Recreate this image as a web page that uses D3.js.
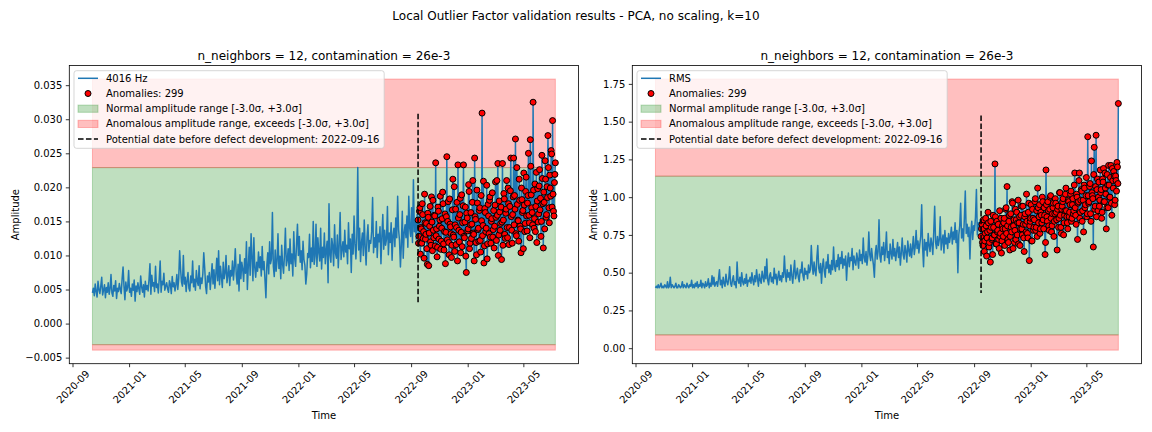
<!DOCTYPE html>
<html><head><meta charset="utf-8">
<script src="https://cdn.jsdelivr.net/npm/d3@7"></script>
<style>body{margin:0;background:#fff}svg{font-family:"DejaVu Sans",sans-serif;display:block}</style>
</head><body><svg id="chart" width="1152" height="432"></svg>
<script>
// ---------------- data ----------------
const suptitle = "Local Outlier Factor validation results - PCA, no scaling, k=10";
const panelTitles = ["n_neighbors = 12, contamination = 26e-3", "n_neighbors = 12, contamination = 26e-3"];
const seriesNames = ["4016 Hz", "RMS"];
const legendLabels = ["Anomalies: 299", "Normal amplitude range [-3.0σ, +3.0σ]", "Anomalous amplitude range, exceeds [-3.0σ, +3.0σ]", "Potential date before defect development: 2022-09-16"];
const xLabel = "Time";
const yLabel = "Amplitude";
const xTickLabels = ["2020-09","2021-01","2021-05","2021-09","2022-01","2022-05","2022-09","2023-01","2023-05"];
const leftYTicks = [-0.005,0,0.005,0.010,0.015,0.020,0.025,0.030,0.035];
const rightYTicks = [0,0.25,0.5,0.75,1.0,1.25,1.5,1.75];
const seriesStart = "2020-10-14";
const defectDate = "2022-09-16";
const stepDays = 2;

// 4016 Hz amplitude, before the defect date (every 2 days)
const leftBefore = [
0.0045,0.0052,0.0041,0.0058,0.0047,0.0039,0.0062,0.0050,0.0044,0.0055,0.0068,0.0042,0.0049,0.0057,0.0038,0.0053,0.0046,0.0060,0.0043,0.0051,0.0072,0.0045,0.0040,0.0056,0.0048,0.0063,0.0037,0.0052,0.0047,0.0059,
0.0050,0.0044,0.0066,0.0083,0.0055,0.0035,0.0061,0.0048,0.0053,0.0078,0.0046,0.0052,0.0040,0.0058,0.0049,0.0064,0.0033,0.0055,0.0047,0.0060,0.0051,0.0043,0.0070,0.0054,0.0046,0.0057,0.0039,0.0062,0.0050,0.0056,
0.0048,0.0065,0.0088,0.0043,0.0071,0.0055,0.0060,0.0047,0.0084,0.0053,0.0058,0.0045,0.0066,0.0092,0.0046,0.0062,0.0057,0.0074,0.0049,0.0055,0.0060,0.0051,0.0046,0.0063,0.0058,0.0044,0.0069,0.0054,0.0060,0.0048,
0.0057,0.0072,0.0050,0.0066,0.0107,0.0080,0.0061,0.0055,0.0100,0.0058,0.0068,0.0047,0.0063,0.0075,0.0052,0.0048,0.0070,0.0060,0.0092,0.0054,0.0065,0.0049,0.0078,0.0062,0.0056,0.0085,0.0051,0.0067,0.0059,0.0073,
0.0104,0.0082,0.0055,0.0044,0.0070,0.0061,0.0075,0.0050,0.0068,0.0088,0.0058,0.0079,0.0052,0.0072,0.0096,0.0063,0.0107,0.0057,0.0084,0.0069,0.0053,0.0090,0.0066,0.0074,0.0100,0.0060,0.0071,0.0085,0.0056,0.0078,
0.0070,0.0092,0.0064,0.0083,0.0110,0.0072,0.0058,0.0087,0.0048,0.0101,0.0066,0.0090,0.0080,0.0062,0.0095,0.0074,0.0120,0.0050,0.0084,0.0112,0.0071,0.0132,0.0097,0.0063,0.0126,0.0082,0.0068,0.0090,0.0077,0.0105,
0.0082,0.0098,0.0070,0.0113,0.0079,0.0091,0.0064,0.0038,0.0086,0.0104,0.0073,0.0120,0.0088,0.0095,0.0163,0.0084,0.0069,0.0108,0.0077,0.0092,0.0132,0.0081,0.0099,0.0066,0.0115,0.0087,0.0074,0.0101,0.0140,0.0085,
0.0093,0.0110,0.0078,0.0124,0.0088,0.0102,0.0070,0.0135,0.0096,0.0084,0.0116,0.0146,0.0100,0.0128,0.0090,0.0107,0.0079,0.0121,0.0094,0.0086,0.0058,0.0073,0.0103,0.0097,0.0131,0.0082,0.0111,0.0091,0.0150,0.0087,
0.0099,0.0146,0.0084,0.0126,0.0105,0.0092,0.0140,0.0080,0.0112,0.0097,0.0133,0.0088,0.0108,0.0121,0.0060,0.0176,0.0101,0.0090,0.0125,0.0114,0.0085,0.0145,0.0103,0.0096,0.0130,0.0082,0.0116,0.0163,0.0094,0.0109,
0.0120,0.0098,0.0137,0.0105,0.0115,0.0088,0.0148,0.0110,0.0124,0.0075,0.0131,0.0102,0.0158,0.0117,0.0095,0.0128,0.0229,0.0108,0.0140,0.0091,0.0119,0.0133,0.0100,0.0152,0.0113,0.0086,0.0127,0.0145,0.0106,0.0122,
0.0118,0.0135,0.0185,0.0104,0.0126,0.0112,0.0150,0.0097,0.0131,0.0120,0.0142,0.0088,0.0128,0.0160,0.0109,0.0137,0.0115,0.0124,0.0172,0.0101,0.0133,0.0119,0.0148,0.0093,0.0130,0.0140,0.0113,0.0155,0.0126,0.0187,
0.0138,0.0122,0.0083,0.0117,0.0165,0.0096,0.0133,0.0145,0.0126,0.0158,0.0112,0.0187,0.0140,0.0128,0.0170,0.0119,0.0211,0.0135,0.0150,0.0124,0.0160];

// 4016 Hz amplitude from the defect date on (anomalies): even days, then odd days
const leftAfter = [
0.0152,0.0128,0.0170,0.0141,0.0118,0.0160,0.0135,0.0190,0.0124,0.0147,
0.0087,0.0156,0.0133,0.0172,0.0115,0.0149,0.0181,0.0126,0.0158,0.0236,
0.0139,0.0112,0.0165,0.0143,0.0187,0.0121,0.0154,0.0176,0.0108,0.0161,
0.0134,0.0245,0.0150,0.0119,0.0183,0.0142,0.0097,0.0167,0.0130,0.0201,
0.0145,0.0116,0.0178,0.0233,0.0137,0.0160,0.0104,0.0189,0.0148,0.0233,
0.0126,0.0171,0.0075,0.0155,0.0139,0.0194,0.0118,0.0163,0.0146,0.0210,
0.0131,0.0243,0.0153,0.0101,0.0177,0.0140,0.0166,0.0122,0.0188,0.0309,
0.0144,0.0089,0.0169,0.0135,0.0203,0.0117,0.0158,0.0181,0.0127,0.0150,
0.0192,0.0138,0.0111,0.0174,0.0156,0.0210,0.0235,0.0130,0.0164,0.0147,
0.0094,0.0235,0.0152,0.0183,0.0125,0.0168,0.0141,0.0199,0.0116,0.0172,
0.0243,0.0137,0.0160,0.0243,0.0188,0.0271,0.0129,0.0175,0.0151,0.0212,
0.0143,0.0104,0.0182,0.0166,0.0221,0.0135,0.0194,0.0158,0.0177,0.0250,
0.0148,0.0270,0.0189,0.0163,0.0325,0.0140,0.0205,0.0172,0.0119,0.0198,
0.0161,0.0226,0.0184,0.0150,0.0213,0.0111,0.0178,0.0239,0.0156,0.0201,
0.0276,0.0170,0.0218,0.0187,0.0249,0.0298,0.0165,0.0207,0.0236];
const leftAfterOdd = [
0.0118,0.0165,0.0102,0.0139,0.0176,0.0125,0.0096,0.0148,0.0131,0.0110,
0.0162,0.0085,0.0143,0.0120,0.0186,0.0107,0.0137,0.0159,0.0114,0.0129,
0.0098,0.0171,0.0124,0.0152,0.0109,0.0140,0.0193,0.0117,0.0135,0.0088,
0.0157,0.0123,0.0179,0.0101,0.0146,0.0132,0.0115,0.0212,0.0127,0.0106,
0.0168,0.0141,0.0092,0.0155,0.0120,0.0184,0.0134,0.0113,0.0173,0.0128,
0.0149,0.0099,0.0162,0.0136,0.0204,0.0110,0.0145,0.0125,0.0178,0.0133,
0.0092,0.0157,0.0119,0.0196,0.0138,0.0121,0.0170,0.0105,0.0151,0.0129,
0.0209,0.0114,0.0163,0.0140,0.0095,0.0175,0.0132,0.0186,0.0118,0.0154,
0.0127,0.0166,0.0143,0.0208,0.0122,0.0159,0.0100,0.0180,0.0137,0.0171,
0.0149,0.0115,0.0191,0.0131,0.0162,0.0210,0.0126,0.0176,0.0141,0.0195,
0.0157,0.0118,0.0186,0.0145,0.0168,0.0132,0.0229,0.0152,0.0121,0.0181,
0.0139,0.0199,0.0163,0.0110,0.0174,0.0147,0.0215,0.0136,0.0188,0.0159,
0.0126,0.0231,0.0170,0.0145,0.0196,0.0154,0.0135,0.0222,0.0180,0.0149,
0.0202,0.0167,0.0128,0.0247,0.0176,0.0193,0.0139,0.0212,0.0160,0.0185,
0.0229,0.0148,0.0199,0.0254,0.0171,0.0190,0.0158,0.0219];

// RMS, before the defect date (every 2 days)
const rightBefore = [
0.40,0.41,0.40,0.42,0.40,0.41,0.43,0.40,0.41,0.40,0.42,0.41,0.40,0.44,0.40,0.41,0.47,0.40,0.42,0.41,0.40,0.41,0.43,0.40,0.40,0.42,0.41,0.40,0.41,0.44,0.40,0.42,0.41,0.40,0.43,0.41,0.40,0.42,0.41,0.45,0.40,
0.42,0.40,0.43,0.41,0.44,0.40,0.42,0.41,0.45,0.40,0.43,0.42,0.40,0.44,0.41,0.42,0.46,0.40,0.43,0.41,0.48,0.42,0.47,0.41,0.43,
0.44,0.41,0.46,0.52,0.42,0.45,0.40,0.47,0.43,0.41,0.49,0.44,0.42,0.46,0.54,0.43,0.41,0.45,0.48,0.42,0.44,0.40,0.57,0.45,0.43,0.47,0.41,0.50,0.44,0.42,0.46,0.43,0.49,0.41,0.45,0.44,
0.47,0.43,0.50,0.45,0.42,0.48,0.44,0.52,0.46,0.41,0.49,0.45,0.43,0.51,0.47,0.44,0.54,0.46,0.59,0.45,0.42,0.48,0.50,0.44,0.47,0.43,0.53,0.46,0.49,0.42,0.47,0.51,0.45,0.48,0.44,0.50,
0.47,0.61,0.49,0.44,0.52,0.47,0.50,0.45,0.55,0.48,0.43,0.51,0.58,0.46,0.49,0.53,0.47,0.44,0.52,0.50,0.57,0.48,0.45,0.53,0.49,0.51,0.46,0.55,0.50,
0.52,0.68,0.55,0.49,0.57,0.51,0.48,0.60,0.68,0.53,0.50,0.56,0.43,0.54,0.59,0.51,0.47,0.57,0.53,0.62,0.50,0.55,0.49,0.58,0.52,0.67,0.54,0.51,
0.58,0.54,0.62,0.52,0.60,0.56,0.64,0.53,0.59,0.55,0.61,0.45,0.57,0.63,0.54,0.60,0.58,0.66,0.52,0.61,0.57,0.55,0.63,0.59,0.53,0.65,0.58,0.62,0.56,0.73,0.60,0.57,0.64,0.55,0.61,0.77,
0.62,0.58,0.66,0.60,0.55,0.47,0.63,0.68,0.59,0.64,0.85,0.61,0.57,0.67,0.62,0.70,0.58,0.65,0.77,0.60,0.64,0.56,0.69,0.63,0.59,0.72,0.61,0.66,0.58,0.64,0.70,0.60,0.67,0.55,0.63,0.73,0.62,0.59,0.68,0.64,0.57,0.71,0.65,0.61,0.69,0.60,0.66,0.74,0.62,0.67,0.78,
0.66,0.71,0.63,0.69,0.74,0.95,0.67,0.54,0.72,0.65,0.70,0.61,0.76,0.68,0.64,0.73,0.69,0.62,0.77,0.94,0.70,0.66,0.74,0.68,0.72,0.87,0.65,0.71,0.75,0.63,0.78,0.69,0.73,0.66,0.76,0.70,
0.74,0.80,0.69,0.77,0.72,0.83,0.70,0.78,0.50,0.75,0.81,0.96,0.73,0.79,0.71,0.86,1.04,0.76,0.82,0.74,0.80,0.59,0.77,0.84,0.72,0.81,0.78,0.87,1.05,0.75,0.83,0.79,0.85];

// RMS from the defect date on (anomalies): even days, then odd days
const rightAfter = [
0.74,0.82,0.68,0.79,0.71,0.86,0.61,0.77,0.83,0.70,0.57,0.80,0.73,0.88,0.75,1.22,0.69,0.84,0.78,0.72,0.91,0.76,0.63,0.81,0.74,
0.86,0.79,0.93,1.07,0.72,0.84,0.65,0.89,0.77,0.96,0.81,0.70,0.92,0.85,0.75,0.98,0.83,0.68,0.88,0.79,0.94,0.73,0.87,0.82,1.02,0.76,0.90,0.58,0.84,0.95,0.71,0.86,0.80,0.97,0.78,
0.91,1.06,0.83,0.95,0.79,0.88,1.00,0.85,0.93,0.62,1.18,0.87,0.97,0.81,0.92,1.01,0.77,0.89,0.96,0.84,0.99,0.90,0.65,0.94,0.86,1.03,0.80,0.92,0.97,0.75,0.88,1.02,0.91,0.83,0.98,0.87,
0.95,1.04,0.86,0.99,0.91,1.16,0.88,1.02,0.72,0.97,1.16,0.90,1.05,0.84,0.98,1.08,0.93,1.01,0.87,
1.40,0.96,1.07,0.89,1.24,1.01,0.67,1.33,0.94,1.41,1.05,0.91,1.10,0.98,1.03,0.86,1.12,1.19,0.97,1.06,0.79,1.15,0.93,1.08,1.00,1.21,0.88,1.11,1.17,0.95,1.14,1.04,1.20,1.62];
const rightAfterOdd = [
0.79,0.70,0.85,0.64,0.76,0.81,0.73,0.90,0.67,0.78,
0.84,0.72,0.62,0.80,0.75,0.87,0.69,0.77,0.82,0.66,
0.74,0.86,0.71,0.79,0.83,0.68,0.92,0.76,0.81,0.70,
0.88,0.74,0.80,0.97,0.66,0.85,0.78,0.72,0.90,0.83,
0.69,0.87,0.79,0.94,0.75,0.82,0.64,0.89,0.77,0.84,
0.73,0.96,0.81,0.86,0.71,0.92,0.78,0.85,0.99,0.80,
0.74,0.93,0.87,0.76,0.90,0.83,0.97,0.79,0.88,0.70,
0.95,0.84,0.91,0.78,1.00,0.86,0.81,0.93,0.74,0.89,
0.96,0.85,0.92,0.80,1.03,0.88,0.76,0.94,0.99,0.83,
0.91,1.06,0.87,0.79,0.97,0.90,1.02,0.84,0.95,0.89,
1.08,0.93,0.82,1.00,0.96,1.11,0.86,0.98,1.04,0.91,
0.77,1.06,0.95,1.13,0.89,1.01,0.97,1.09,0.84,1.03,
0.99,1.15,0.92,1.07,0.87,1.12,1.00,0.94,1.18,1.05,
0.90,1.10,0.97,1.16,1.02,0.93,1.08,1.21,1.00,1.13,
0.96,1.19,1.06,1.14,0.98,1.11,1.23,1.09];

// band limits: [red low, green low, green high, red high]
const leftBands = [-0.0039, -0.0031, 0.0229, 0.0359];
const rightBands = [-0.013, 0.088, 1.139, 1.782];
// vertical dashed marker extent [bottom, top]
const leftVLine = [0.0028, 0.0308];
const rightVLine = [0.365, 1.541];

// ---------------- drawing ----------------
const svg = d3.select("#chart");
const FONT = '"DejaVu Sans", sans-serif';
const PT = 65.5, PB = 363.7, PW = 509.2;
const BLUE = "#1f77b4";
const parseDay = d3.utcParse("%Y-%m-%d"), parseMonth = d3.utcParse("%Y-%m");

svg.append("text").attr("x", 576).attr("y", 19.5).attr("text-anchor", "middle")
  .attr("font-size", 12).attr("fill", "#000").text(suptitle);

function buildSeries(before, after, afterOdd) {
  const t0 = parseDay(seriesStart), t1 = parseDay(defectDate);
  const pts = [];
  before.forEach((v, i) => pts.push({date: d3.utcDay.offset(t0, i * stepDays), value: v, anomaly: false}));
  after.forEach((v, i) => pts.push({date: d3.utcDay.offset(t1, i * stepDays), value: v, anomaly: true}));
  afterOdd.forEach((v, i) => pts.push({date: d3.utcDay.offset(t1, i * stepDays + 1), value: v, anomaly: true}));
  pts.sort((a, b) => a.date - b.date);
  return pts;
}

function drawPanel(p) {
  const g = svg.append("g");
  const pts = buildSeries(p.before, p.after, p.afterOdd);
  const dMin = pts[0].date, dMax = pts[pts.length - 1].date;
  const span = dMax - dMin;
  const x = d3.scaleUtc().domain([new Date(+dMin - 0.05 * span), new Date(+dMax + 0.05 * span)]).range([p.x0, p.x0 + PW]);
  const yLo = p.bands[0], yHi = p.bands[3], ys = yHi - yLo;
  const y = d3.scaleLinear().domain([yLo - 0.05 * ys, yHi + 0.05 * ys]).range([PB, PT]);

  // bands
  const bands = [
    {lo: p.bands[1], hi: p.bands[2], c: "#008000"},
    {lo: p.bands[2], hi: p.bands[3], c: "#ff0000"},
    {lo: p.bands[0], hi: p.bands[1], c: "#ff0000"}];
  g.selectAll("rect.band").data(bands).join("rect").attr("class", "band")
    .attr("x", x(dMin)).attr("width", x(dMax) - x(dMin))
    .attr("y", d => y(d.hi)).attr("height", d => y(d.lo) - y(d.hi))
    .attr("fill", d => d.c).attr("fill-opacity", 0.25)
    .attr("stroke", d => d.c).attr("stroke-opacity", 0.25).attr("stroke-width", 1);

  // series line
  g.append("path").datum(pts)
    .attr("d", d3.line().x(d => x(d.date)).y(d => y(d.value)))
    .attr("fill", "none").attr("stroke", BLUE).attr("stroke-width", 1.5).attr("stroke-linejoin", "round");

  // anomalies
  g.selectAll("circle.anom").data(pts.filter(d => d.anomaly)).join("circle").attr("class", "anom")
    .attr("cx", d => x(d.date)).attr("cy", d => y(d.value)).attr("r", 3)
    .attr("fill", "#ff0000").attr("stroke", "#000").attr("stroke-width", 1);

  // dashed marker
  const vd = parseDay(defectDate);
  g.append("line").attr("x1", x(vd)).attr("x2", x(vd)).attr("y1", y(p.vline[1])).attr("y2", y(p.vline[0]))
    .attr("stroke", "#000").attr("stroke-width", 1.5).attr("stroke-dasharray", "5.55,2.4");

  // frame
  g.append("rect").attr("x", p.x0).attr("y", PT).attr("width", PW).attr("height", PB - PT)
    .attr("fill", "none").attr("stroke", "#000").attr("stroke-width", 0.8);

  // x axis
  const gx = g.append("g").attr("transform", `translate(0,${PB})`)
    .call(d3.axisBottom(x).tickValues(xTickLabels.map(parseMonth)).tickFormat((d, i) => xTickLabels[i]).tickSize(3.5).tickPadding(3.5));
  gx.attr("font-family", FONT).attr("font-size", 10);
  gx.select(".domain").remove();
  gx.selectAll(".tick line").attr("stroke", "#000").attr("stroke-width", 0.8);
  gx.selectAll(".tick text").attr("y", null).attr("dy", null).attr("fill", "#000")
    .attr("dominant-baseline", "central").attr("text-anchor", "middle")
    .attr("transform", "translate(0,23) rotate(-45)");

  // y axis
  const gy = g.append("g").attr("transform", `translate(${p.x0},0)`)
    .call(d3.axisLeft(y).tickValues(p.yTicks).tickFormat(p.yFmt).tickSize(3.5).tickPadding(3.5));
  gy.attr("font-family", FONT).attr("font-size", 10);
  gy.select(".domain").remove();
  gy.selectAll(".tick line").attr("stroke", "#000").attr("stroke-width", 0.8);
  gy.selectAll(".tick text").attr("fill", "#000");
  let maxW = 0;
  gy.selectAll(".tick text").each(function () { maxW = Math.max(maxW, this.getComputedTextLength()); });

  // labels
  g.append("text").attr("x", p.x0 + PW / 2).attr("y", 59.5).attr("text-anchor", "middle")
    .attr("font-size", 12).attr("fill", "#000").text(p.title);
  g.append("text").attr("x", p.x0 + PW / 2).attr("y", 415).attr("text-anchor", "middle")
    .attr("dominant-baseline", "central").attr("font-size", 10).attr("fill", "#000").text(xLabel);
  const ylx = p.x0 - 7 - maxW - 4 - 5.8;
  g.append("text").attr("transform", `translate(${ylx},${(PT + PB) / 2}) rotate(-90)`)
    .attr("text-anchor", "middle").attr("dominant-baseline", "central")
    .attr("font-size", 10).attr("fill", "#000").text(yLabel);

  // legend
  const lg = g.append("g").attr("transform", `translate(${p.x0 + 4.7},${PT + 5.2})`);
  const labels = [p.name].concat(legendLabels);
  const box = lg.append("rect").attr("rx", 2.5).attr("ry", 2.5)
    .attr("fill", "#fff").attr("fill-opacity", 0.8).attr("stroke", "#ccc").attr("stroke-opacity", 0.8).attr("stroke-width", 1);
  let tw = 0;
  labels.forEach((lab, k) => {
    const cy = 7.6 + k * 15.2;
    const t = lg.append("text").attr("x", 32).attr("y", cy).attr("dominant-baseline", "central")
      .attr("font-size", 10).attr("fill", "#000").text(lab);
    tw = Math.max(tw, t.node().getComputedTextLength());
    if (k === 0) {
      lg.append("line").attr("x1", 4).attr("x2", 24).attr("y1", cy).attr("y2", cy).attr("stroke", BLUE).attr("stroke-width", 1.5);
    } else if (k === 1) {
      lg.append("circle").attr("cx", 14).attr("cy", cy).attr("r", 3).attr("fill", "#ff0000").attr("stroke", "#000").attr("stroke-width", 1);
    } else if (k === 2 || k === 3) {
      const c = k === 2 ? "#008000" : "#ff0000";
      lg.append("rect").attr("x", 4).attr("y", cy - 3.6).attr("width", 20).attr("height", 7.2)
        .attr("fill", c).attr("fill-opacity", 0.25).attr("stroke", c).attr("stroke-opacity", 0.25);
    } else {
      lg.append("line").attr("x1", 4).attr("x2", 24).attr("y1", cy).attr("y2", cy)
        .attr("stroke", "#000").attr("stroke-width", 1.5).attr("stroke-dasharray", "5.55,2.4");
    }
  });
  box.attr("x", 0).attr("y", 0).attr("width", 32 + tw + 4.7).attr("height", 77.6);
}

drawPanel({x0: 69.3, before: leftBefore, after: leftAfter, afterOdd: leftAfterOdd, bands: leftBands, vline: leftVLine,
  yTicks: leftYTicks, yFmt: d3.format(".3f"), title: panelTitles[0], name: seriesNames[0]});
drawPanel({x0: 632.3, before: rightBefore, after: rightAfter, afterOdd: rightAfterOdd, bands: rightBands, vline: rightVLine,
  yTicks: rightYTicks, yFmt: d3.format(".2f"), title: panelTitles[1], name: seriesNames[1]});
</script>
</body></html>
